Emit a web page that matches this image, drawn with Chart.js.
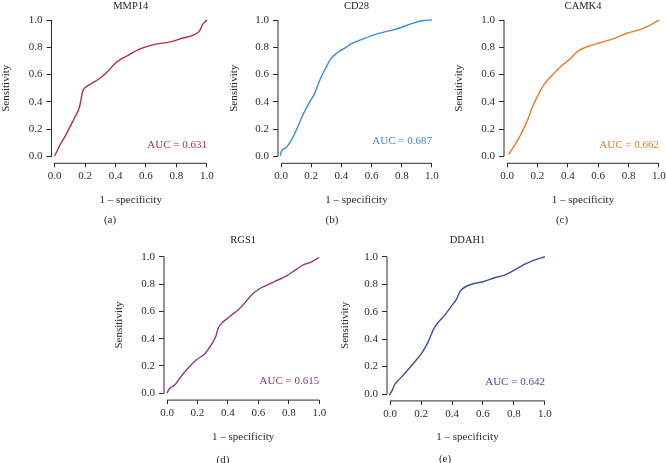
<!DOCTYPE html>
<html>
<head>
<meta charset="utf-8">
<title>ROC curves</title>
<script src="https://cdn.jsdelivr.net/npm/chart.js@4.4.1/dist/chart.umd.min.js"></script>
<style>
  html, body { margin: 0; padding: 0; background: #fff; }
  body { width: 666px; height: 463px; overflow: hidden; position: relative; }
  .panel { position: absolute; }
</style>
</head>
<body>
<div class="panel" id="p0"><canvas id="c0"></canvas></div>
<div class="panel" id="p1"><canvas id="c1"></canvas></div>
<div class="panel" id="p2"><canvas id="c2"></canvas></div>
<div class="panel" id="p3"><canvas id="c3"></canvas></div>
<div class="panel" id="p4"><canvas id="c4"></canvas></div>
<script>
// values
const tickValues = [0, 0.2, 0.4, 0.6, 0.8, 1.0];
const genes = ["MMP14", "CD28", "CAMK4", "RGS1", "DDAH1"];
const aucLabels = ["AUC = 0.631", "AUC = 0.687", "AUC = 0.662", "AUC = 0.615", "AUC = 0.642"];
const panelTags = ["(a)", "(b)", "(c)", "(d)", "(e)"];

const mmp14X = [0, 0.017, 0.033, 0.065, 0.098, 0.13, 0.163, 0.174, 0.185, 0.207, 0.25, 0.30, 0.35, 0.40, 0.48, 0.565, 0.65, 0.76, 0.85, 0.91, 0.957, 0.967, 1.0];
const mmp14Y = [0.005, 0.04, 0.08, 0.14, 0.21, 0.28, 0.36, 0.42, 0.48, 0.51, 0.54, 0.575, 0.625, 0.685, 0.74, 0.79, 0.82, 0.84, 0.87, 0.89, 0.93, 0.96, 1.0];

const cd28X = [-0.005, 0.003, 0.033, 0.066, 0.1, 0.143, 0.187, 0.22, 0.253, 0.297, 0.33, 0.374, 0.43, 0.473, 0.54, 0.626, 0.714, 0.78, 0.87, 0.934, 1.0];
const cd28Y = [0.005, 0.04, 0.065, 0.115, 0.19, 0.30, 0.395, 0.455, 0.55, 0.65, 0.715, 0.76, 0.80, 0.83, 0.86, 0.895, 0.92, 0.94, 0.975, 0.995, 1.0];

const camk4X = [0.01, 0.048, 0.09, 0.136, 0.17, 0.2, 0.245, 0.30, 0.354, 0.41, 0.44, 0.475, 0.53, 0.617, 0.705, 0.79, 0.88, 0.945, 1.0];
const camk4Y = [0.015, 0.08, 0.16, 0.27, 0.37, 0.44, 0.53, 0.60, 0.66, 0.71, 0.745, 0.777, 0.806, 0.835, 0.866, 0.903, 0.932, 0.964, 1.0];

const rgs1X = [0, 0.013, 0.05, 0.083, 0.127, 0.193, 0.248, 0.29, 0.32, 0.335, 0.357, 0.41, 0.467, 0.51, 0.555, 0.6, 0.653, 0.72, 0.785, 0.84, 0.895, 0.95, 1.0];
const rgs1Y = [0, 0.03, 0.06, 0.11, 0.17, 0.245, 0.29, 0.355, 0.415, 0.475, 0.51, 0.56, 0.61, 0.66, 0.72, 0.76, 0.79, 0.825, 0.86, 0.90, 0.94, 0.963, 0.995];

const ddah1X = [-0.005, 0.015, 0.03, 0.075, 0.118, 0.16, 0.203, 0.246, 0.278, 0.3, 0.353, 0.396, 0.428, 0.45, 0.471, 0.525, 0.6, 0.675, 0.739, 0.803, 0.867, 0.93, 1.0];
const ddah1Y = [-0.01, 0.03, 0.07, 0.125, 0.18, 0.235, 0.296, 0.38, 0.466, 0.507, 0.575, 0.64, 0.69, 0.745, 0.77, 0.80, 0.818, 0.847, 0.866, 0.903, 0.944, 0.976, 1.0];

const seriesX = [mmp14X, cd28X, camk4X, rgs1X, ddah1X];
const seriesY = [mmp14Y, cd28Y, camk4Y, rgs1Y, ddah1Y];
const colors = ["#b5303c", "#3b8bd4", "#e87b2d", "#8b3a83", "#3d4f96"];

const FONT = "'Liberation Serif', 'DejaVu Serif', serif";
const INK = "#2b2b2b";

// panel placement on the page (left, top, width, height) and inner spacing
const layout = [
    { L: 0,   T: 0,   W: 222, H: 232, pl: 0,   pr: 12,   yw: 51.5, tTop: 0, tBot: 0.6, xh: 43,   pb: 25.7, tag: [110, 220], aucY: 0.08 },
    { L: 222, T: 0,   W: 222, H: 232, pl: 5.1, pr: 9,    yw: 50.9, tTop: 0, tBot: 0.6, xh: 43,   pb: 25.7, tag: [110, 220], aucY: 0.11 },
    { L: 444, T: 0,   W: 230, H: 232, pl: 8.4, pr: 12,   yw: 51.6, tTop: 0, tBot: 0.6, xh: 43,   pb: 25.7, tag: [118, 220], aucY: 0.08 },
    { L: 110, T: 234, W: 230, H: 229, pl: 2.7, pr: 17.7, yw: 51.3, tTop: 0, tBot: 3.3, xh: 43.5, pb: 19.4, tag: [113, 226], aucY: 0.09 },
    { L: 332, T: 234, W: 230, H: 229, pl: 6.7, pr: 14,   yw: 48.3, tTop: 0, tBot: 3.3, xh: 42.7, pb: 19.4, tag: [113, 225], aucY: 0.09 }
];

// R-style axis lines that stop at 0 and 1, plus AUC text and panel letter
const rAxes = {
    id: "rAxes",
    afterDraw(chart, args, opts) {
        const { ctx, chartArea, scales } = chart;
        const x = scales.x, y = scales.y;
        ctx.save();
        ctx.strokeStyle = INK;
        ctx.lineWidth = 1;
        ctx.beginPath();
        ctx.moveTo(chartArea.left, y.getPixelForValue(0));
        ctx.lineTo(chartArea.left, y.getPixelForValue(1));
        ctx.moveTo(x.getPixelForValue(0), chartArea.bottom);
        ctx.lineTo(x.getPixelForValue(1), chartArea.bottom);
        ctx.stroke();

        ctx.font = "11px " + FONT;
        ctx.fillStyle = opts.color;
        ctx.textAlign = "right";
        ctx.textBaseline = "middle";
        ctx.fillText(opts.auc, x.getPixelForValue(1), y.getPixelForValue(opts.aucY));

        ctx.fillStyle = INK;
        ctx.textAlign = "center";
        ctx.fillText(opts.tag, opts.tagX, opts.tagY);
        ctx.restore();
    }
};

function axisOptions(isX, g) {
    return {
        type: "linear",
        min: isX ? -0.02 : -0.05,
        max: isX ? 1.02 : 1.05,
        afterBuildTicks: scale => {
            scale.ticks = tickValues.map(v => ({ value: v }));
        },
        afterFit: scale => {
            if (isX) scale.height = g.xh; else scale.width = g.yw;
        },
        border: { display: false },
        grid: {
            display: true,
            drawOnChartArea: false,
            drawTicks: true,
            tickLength: isX ? 4 : 5,
            color: INK,
            lineWidth: 1
        },
        ticks: {
            autoSkip: false,
            maxRotation: 0,
            padding: isX ? 2.5 : 4,
            color: INK,
            font: { family: FONT, size: 11 },
            callback: v => v.toFixed(1)
        },
        title: {
            display: true,
            text: isX ? "1 \u2013 specificity" : "Sensitivity",
            color: INK,
            padding: 0,
            font: { family: FONT, size: 11, lineHeight: 1.2 }
        }
    };
}

genes.forEach((gene, i) => {
    const g = layout[i];
    const box = document.getElementById("p" + i);
    box.style.left = g.L + "px";
    box.style.top = g.T + "px";
    box.style.width = g.W + "px";
    box.style.height = g.H + "px";

    const points = seriesX[i].map((v, k) => ({ x: v, y: seriesY[i][k] }));

    new Chart(document.getElementById("c" + i), {
        type: "scatter",
        data: {
            datasets: [{
                data: points,
                showLine: true,
                borderColor: colors[i],
                borderWidth: 1.4,
                pointRadius: 0,
                cubicInterpolationMode: "monotone",
                fill: false
            }]
        },
        options: {
            responsive: true,
            maintainAspectRatio: false,
            animation: false,
            layout: { padding: { left: g.pl, right: g.pr, top: 0, bottom: g.pb } },
            scales: {
                x: axisOptions(true, g),
                y: axisOptions(false, g)
            },
            plugins: {
                legend: { display: false },
                tooltip: { enabled: false },
                title: {
                    display: true,
                    text: gene,
                    fullSize: false,
                    color: "#222",
                    font: { family: FONT, size: 10.5, weight: "normal", lineHeight: 1.2 },
                    padding: { top: g.tTop, bottom: g.tBot }
                },
                rAxes: {
                    color: colors[i],
                    auc: aucLabels[i],
                    aucY: g.aucY,
                    tag: panelTags[i],
                    tagX: g.tag[0],
                    tagY: g.tag[1]
                }
            }
        },
        plugins: [rAxes]
    });
});
</script>
</body>
</html>
